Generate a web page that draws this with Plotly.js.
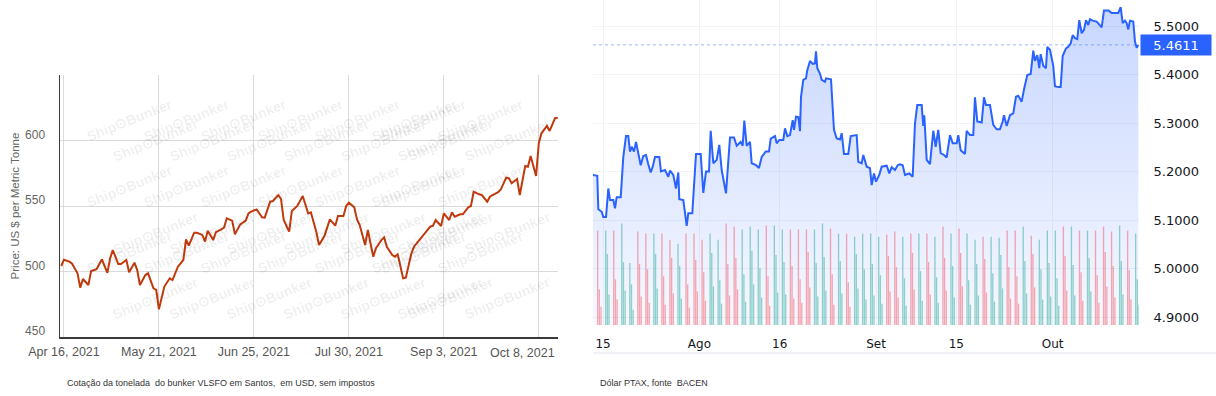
<!DOCTYPE html>
<html><head><meta charset="utf-8">
<script src="https://cdn.plot.ly/plotly-3.0.1.min.js"></script>
<style>html,body{margin:0;padding:0;background:#fff}#chart{width:1216px;height:396px}</style>
</head><body><div id="chart"></div>
<script>
// ---------- Left chart: VLSFO bunker price, Santos (USD / t) ----------
const bunkerDates = ['2021-04-15','2021-04-16','2021-04-18','2021-04-19','2021-04-21','2021-04-22','2021-04-23','2021-04-25','2021-04-26','2021-04-28','2021-04-30',
'2021-05-02','2021-05-03','2021-05-04','2021-05-06','2021-05-07','2021-05-09','2021-05-10','2021-05-12','2021-05-13','2021-05-14','2021-05-16','2021-05-17','2021-05-19','2021-05-20','2021-05-21','2021-05-23','2021-05-24','2021-05-25','2021-05-26','2021-05-28','2021-05-30','2021-05-31',
'2021-06-01','2021-06-03','2021-06-04','2021-06-06','2021-06-07','2021-06-08','2021-06-10','2021-06-11','2021-06-13','2021-06-14','2021-06-15','2021-06-17','2021-06-18','2021-06-20','2021-06-22','2021-06-23','2021-06-24','2021-06-26','2021-06-28','2021-06-29',
'2021-07-01','2021-07-02','2021-07-04','2021-07-05','2021-07-06','2021-07-08','2021-07-09','2021-07-11','2021-07-13','2021-07-15','2021-07-16','2021-07-18','2021-07-19','2021-07-21','2021-07-23','2021-07-25','2021-07-26','2021-07-28','2021-07-29','2021-07-30',
'2021-08-01','2021-08-02','2021-08-03','2021-08-05','2021-08-06','2021-08-08','2021-08-09','2021-08-11','2021-08-12','2021-08-13','2021-08-15','2021-08-16','2021-08-17','2021-08-19','2021-08-20','2021-08-22','2021-08-23','2021-08-25','2021-08-26','2021-08-28','2021-08-29','2021-08-30','2021-08-31',
'2021-09-02','2021-09-03','2021-09-05','2021-09-06','2021-09-07','2021-09-09','2021-09-10','2021-09-12','2021-09-13','2021-09-14','2021-09-16','2021-09-17','2021-09-19','2021-09-20','2021-09-21','2021-09-23','2021-09-24','2021-09-26','2021-09-27','2021-09-28','2021-09-30',
'2021-10-01','2021-10-03','2021-10-04','2021-10-05','2021-10-07','2021-10-08','2021-10-09','2021-10-11','2021-10-12','2021-10-14','2021-10-15'];
const bunkerPrice = [504.2,509,507.5,506,498.6,487.7,494.3,489.7,500.4,501.7,509.3,
499,510,516.4,505.7,505.7,508.8,499.4,506.7,501.1,489.7,497.3,498.6,487.2,485.9,471.1,488.5,492.2,494.8,493.5,503.7,508.8,524.6,
519.7,529.6,529.6,527.9,522.8,531.2,524,530,532.2,533.5,540.6,538.8,528.4,536,538.8,544.4,545.7,547.4,541.4,541.1,
553.3,553.8,558.4,555.3,539.3,530.4,546.2,550,557.6,544.4,545.2,530.4,520.2,527.1,539.8,535,542.4,542.4,550,552.5,
549,539.8,535.5,520.2,531.7,511.3,517.7,524,526.1,518.9,512.6,511.3,513.1,494.8,495.3,513.4,518.9,524,526.6,530.9,534.2,535,539.3,
534.7,544.4,539.3,545.2,541.8,543.7,543.7,549,550,560.9,558.9,558.4,553.3,557.1,558.4,560.5,562.7,571.6,571.1,567.3,570.6,
558.4,580.5,580,588.2,572.9,597.9,605.5,611.1,607.3,617,617.4];
const bunkerTicks = ['2021-04-16','2021-05-21','2021-06-25','2021-07-30','2021-09-03','2021-10-08'];
const bunkerTickText = ['Apr 16, 2021','May 21, 2021','Jun 25, 2021','Jul 30, 2021','Sep 3, 2021','Oct 8, 2021'];
const priceTicks = [450,500,550,600];

// ---------- Right chart: Dólar PTAX (BRL per USD), trading-time axis ----------
const ptaxTimes = ['2021-07-13 17:10','2021-07-14 06:50','2021-07-14 09:52','2021-07-14 20:02','2021-07-15 00:48','2021-07-15 08:53','2021-07-15 15:45','2021-07-15 20:50','2021-07-16 06:42','2021-07-16 11:47','2021-07-16 16:51',
'2021-07-19 04:48','2021-07-19 12:35','2021-07-19 20:40','2021-07-20 03:32','2021-07-20 08:36','2021-07-20 13:41','2021-07-20 20:34','2021-07-21 02:33','2021-07-21 09:25','2021-07-21 16:35','2021-07-22 00:22','2021-07-22 08:25','2021-07-22 15:18','2021-07-22 22:28','2021-07-23 04:28','2021-07-23 11:20',
'2021-07-26 00:10','2021-07-26 05:15','2021-07-26 17:13','2021-07-27 03:04','2021-07-27 08:10','2021-07-27 18:02','2021-07-28 02:05','2021-07-28 08:57','2021-07-28 11:57','2021-07-28 23:54','2021-07-29 10:04','2021-07-29 14:51','2021-07-30 02:48','2021-07-30 13:52',
'2021-08-02 03:55','2021-08-02 11:41','2021-08-02 19:45','2021-08-03 04:43','2021-08-03 09:48','2021-08-03 17:34','2021-08-04 03:44','2021-08-04 11:30','2021-08-04 18:40','2021-08-05 07:32','2021-08-05 19:29','2021-08-06 07:26','2021-08-06 15:30',
'2021-08-09 03:27','2021-08-09 09:27','2021-08-09 14:14','2021-08-09 21:24','2021-08-10 07:16','2021-08-10 12:20','2021-08-11 01:12','2021-08-11 10:09','2021-08-11 18:14','2021-08-12 06:11','2021-08-12 16:03','2021-08-12 21:07','2021-08-13 09:59','2021-08-13 15:04','2021-08-13 22:49',
'2021-08-16 10:48','2021-08-16 15:52','2021-08-16 22:45','2021-08-17 06:49','2021-08-17 14:53','2021-08-17 18:46','2021-08-18 00:45','2021-08-18 07:38','2021-08-18 12:42','2021-08-18 15:42','2021-08-18 22:34','2021-08-19 06:39','2021-08-19 10:31','2021-08-19 18:36','2021-08-20 02:40','2021-08-20 09:32','2021-08-20 12:32','2021-08-20 16:25',
'2021-08-23 00:29','2021-08-23 05:34','2021-08-23 15:26','2021-08-23 18:25','2021-08-24 09:22','2021-08-24 18:19','2021-08-25 02:24','2021-08-25 12:16','2021-08-25 17:20','2021-08-26 00:13','2021-08-26 13:03','2021-08-26 20:14','2021-08-27 14:10','2021-08-27 18:57',
'2021-08-30 05:07','2021-08-30 09:53','2021-08-30 20:04','2021-08-31 05:56','2021-08-31 11:00','2021-08-31 17:53','2021-08-31 23:51','2021-09-01 09:43','2021-09-01 16:54','2021-09-02 07:50','2021-09-02 15:36','2021-09-02 22:46','2021-09-03 08:38','2021-09-03 16:42','2021-09-03 23:35',
'2021-09-06 07:39','2021-09-06 14:31','2021-09-07 03:23','2021-09-07 13:32','2021-09-07 20:25','2021-09-08 03:17','2021-09-08 16:26','2021-09-08 21:13','2021-09-09 00:13','2021-09-09 07:23','2021-09-09 17:15','2021-09-10 03:07','2021-09-10 10:16','2021-09-10 18:02',
'2021-09-13 01:13','2021-09-13 11:05','2021-09-13 19:09','2021-09-14 05:01','2021-09-14 13:05','2021-09-15 01:03','2021-09-15 05:50','2021-09-15 13:00','2021-09-16 01:51','2021-09-16 06:56','2021-09-16 16:48','2021-09-17 02:40','2021-09-17 07:45','2021-09-17 14:37',
'2021-09-20 03:46','2021-09-20 10:38','2021-09-20 16:36','2021-09-21 04:35','2021-09-21 14:26','2021-09-22 00:36','2021-09-22 10:28','2021-09-22 18:32','2021-09-22 22:25','2021-09-23 06:29','2021-09-23 16:21','2021-09-24 02:13','2021-09-24 10:16','2021-09-24 17:09',
'2021-09-27 03:19','2021-09-27 10:12','2021-09-27 20:03','2021-09-28 06:13','2021-09-28 13:59','2021-09-28 19:04','2021-09-29 01:56','2021-09-29 07:55','2021-09-29 12:06','2021-09-29 19:52','2021-09-30 03:56','2021-09-30 07:49','2021-09-30 15:55',
'2021-10-01 01:45','2021-10-01 06:50','2021-10-01 16:42','2021-10-01 23:53','2021-10-04 05:51','2021-10-04 15:43','2021-10-04 22:35','2021-10-05 05:45','2021-10-05 11:44','2021-10-05 18:37','2021-10-06 01:29','2021-10-06 07:28','2021-10-06 14:38','2021-10-06 21:32','2021-10-07 03:30','2021-10-07 10:22','2021-10-07 15:27','2021-10-07 23:31','2021-10-08 11:28','2021-10-08 21:20',
'2021-10-11 02:25','2021-10-11 09:17','2021-10-11 22:09','2021-10-12 08:18','2021-10-13 04:02','2021-10-13 11:12','2021-10-13 17:11','2021-10-14 00:03','2021-10-14 05:08','2021-10-14 09:55','2021-10-14 15:00','2021-10-15 00:52','2021-10-15 05:57','2021-10-15 11:02','2021-10-15 15:49'];
const ptaxRate = [5.193,5.191,5.122,5.117,5.106,5.106,5.165,5.141,5.141,5.124,5.147,
5.147,5.230,5.273,5.273,5.241,5.251,5.241,5.261,5.234,5.213,5.232,5.234,5.215,5.198,5.210,5.230,
5.230,5.200,5.203,5.189,5.202,5.193,5.165,5.198,5.143,5.141,5.088,5.114,5.114,5.236,
5.236,5.156,5.200,5.200,5.284,5.217,5.224,5.255,5.203,5.155,5.270,5.270,5.253,
5.261,5.253,5.305,5.253,5.261,5.217,5.213,5.207,5.230,5.241,5.241,5.268,5.273,5.258,5.265,
5.265,5.289,5.273,5.275,5.306,5.286,5.313,5.312,5.283,5.354,5.389,5.392,5.409,5.428,5.422,5.423,5.448,5.413,
5.402,5.389,5.385,5.392,5.390,5.286,5.268,5.266,5.279,5.236,5.236,5.273,5.275,5.220,
5.217,5.234,5.210,5.207,5.172,5.196,5.179,5.193,5.210,5.212,5.196,5.209,5.203,5.213,5.215,
5.213,5.193,5.196,5.189,5.299,5.337,5.337,5.294,5.316,5.224,5.215,5.284,5.251,5.286,
5.238,5.234,5.229,5.275,5.258,5.258,5.275,5.244,5.236,5.284,5.275,5.275,5.353,5.303,
5.301,5.353,5.337,5.337,5.296,5.287,5.287,5.303,5.316,5.294,5.316,5.320,5.354,5.356,
5.344,5.369,5.399,5.401,5.449,5.428,5.440,5.413,5.442,5.418,5.413,5.457,5.451,
5.418,5.376,5.374,5.374,5.438,5.454,5.457,5.464,5.481,5.475,5.473,5.512,5.485,5.492,5.512,5.502,5.514,5.511,5.509,5.502,
5.497,5.532,5.532,5.527,5.527,5.539,5.506,5.511,5.506,5.493,5.511,5.509,5.468,5.455,5.4611];
const ptaxTickVals = ['2021-07-15','2021-08-02','2021-08-16','2021-09-01','2021-09-15','2021-10-01'];
const ptaxTickText = ['15','Ago','16','Set','15','Out'];
const rateTicks = [4.9,5.0,5.1,5.2,5.3,5.4,5.5];

// volume histogram: per trading day a main spike and two smaller follow-up spikes (relative heights), up/down colour
const volDays = ['2021-07-14','2021-07-15','2021-07-16','2021-07-19','2021-07-20','2021-07-21','2021-07-22','2021-07-23','2021-07-26','2021-07-27','2021-07-28','2021-07-29','2021-07-30',
'2021-08-02','2021-08-03','2021-08-04','2021-08-05','2021-08-06','2021-08-09','2021-08-10','2021-08-11','2021-08-12','2021-08-13','2021-08-16','2021-08-17','2021-08-18','2021-08-19','2021-08-20','2021-08-23','2021-08-24','2021-08-25','2021-08-26','2021-08-27','2021-08-30','2021-08-31',
'2021-09-01','2021-09-02','2021-09-03','2021-09-06','2021-09-07','2021-09-08','2021-09-09','2021-09-10','2021-09-13','2021-09-14','2021-09-15','2021-09-16','2021-09-17','2021-09-20','2021-09-21','2021-09-22','2021-09-23','2021-09-24','2021-09-27','2021-09-28','2021-09-29','2021-09-30',
'2021-10-01','2021-10-04','2021-10-05','2021-10-06','2021-10-07','2021-10-08','2021-10-11','2021-10-12','2021-10-13','2021-10-14','2021-10-15'];
const volMain = [93,93,93,100,61,92,90,90,90,84,80,90,90,84,90,84,100,97,94,97,94,98,98,94,94,94,94,94,100,95,90,90,87,90,90,87,89,92,87,90,
90,90,87,97,90,95,90,84,87,87,86,93,93,97,88,84,93,93,97,97,93,93,93,97,92,98,93,90];
const volSecond = [35,70,45,62,40,60,55,70,48,66,58,40,64,52,71,44,60,66,50,73,56,48,69,62,58,45,72,61,67,50,63,42,70,55,60,49,68,57,46,71,
53,62,47,66,58,71,44,60,65,51,69,57,48,63,70,55,61,46,68,59,52,66,49,72,58,63,54,45];
const volThird = [18,30,25,34,15,28,22,36,20,31,26,17,33,24,38,21,29,35,23,40,27,19,32,30,26,22,37,28,34,20,31,18,36,25,29,21,33,27,19,35,
24,30,22,34,27,38,20,29,32,23,36,26,21,31,37,25,28,19,34,29,24,33,22,38,27,30,25,20];
const volDir = ['d','u','d','u','u','d','d','u','d','d','u','d','d','d','u','u','d','d','u','u','u','d','u','u','d','d','d','u','u','d','u','d','u','u','u','u','d','d','u','d',
'u','d','u','d','u','d','u','u','d','u','u','d','d','u','d','u','u','u','d','u','d','u','d','d','d','u','d','u'];

// ---------- layout helpers (pixel -> paper) ----------
const W = 1216, H = 396;
const px = x => x / W, py = y => 1 - y / H;
const L = {x0: 60, x1: 558, y0: 75, y1: 337};     // left plot box
const R = {x0: 593, x1: 1139, y0: 0, y1: 325};    // right plot box
const HOUR = 3600 * 1000;

const lastRate = ptaxRate[ptaxRate.length - 1];
const volColors = volDir.map(d => d === 'u' ? 'rgba(8,153,129,0.42)' : 'rgba(242,54,69,0.42)');

function volTrace(heights, offsetHours) {
  return {type: 'bar', x: volDays, y: heights, xaxis: 'x2', yaxis: 'y3',
    offset: offsetHours * HOUR, width: 4 * HOUR,
    marker: {color: volColors, line: {width: 0}}, showlegend: false, hoverinfo: 'skip'};
}

const traces = [
  {
    type: 'scatter', mode: 'lines', x: bunkerDates, y: bunkerPrice, xaxis: 'x', yaxis: 'y',
    line: {color: '#c13a0e', width: 2}, hoverinfo: 'x+y', showlegend: false
  },
  volTrace(volMain, 6),
  volTrace(volSecond, 11),
  volTrace(volThird, 16),
  {
    type: 'scatter', mode: 'lines', x: ptaxTimes, y: ptaxRate, xaxis: 'x2', yaxis: 'y2',
    line: {color: '#2962ff', width: 2}, fill: 'tozeroy',
    fillgradient: {type: 'vertical', start: 4.88, stop: 5.55,
      colorscale: [[0, 'rgba(41,98,255,0.04)'], [1, 'rgba(41,98,255,0.26)']]},
    showlegend: false
  }
];

const annotations = [];
// ShipBunker watermark tiles in the left plot
for (let r = 0; r < 7; r++) {
  const cy = L.y0 + 18 + r * 46.5;
  for (let c = -1; c < 10; c++) {
    const cx = L.x0 + 22 + c * 57 + (r % 2) * 26;
    if (cx < L.x0 + 22 || cx > L.x1 - 24 || cy > L.y1 - 10) continue;
    annotations.push({xref: 'paper', yref: 'paper', x: px(cx), y: py(cy), text: 'Ship⊙Bunker',
      showarrow: false, textangle: -22, font: {family: 'Liberation Sans, Arial', size: 14, color: 'rgba(0,0,0,0.07)', weight: 'bold'}});
  }
}
annotations.push(
  // last date label of the left chart is kept inside the plot (as in the original)
  {xref: 'x', yref: 'paper', x: bunkerTicks[bunkerTicks.length - 1], y: py(353), xanchor: 'center', yanchor: 'middle',
   xshift: -16, showarrow: false, text: bunkerTickText[bunkerTickText.length - 1],
   font: {family: 'Liberation Sans, Arial', size: 12.5, color: '#555'}},
  {xref: 'paper', yref: 'paper', x: px(65), y: py(383), xanchor: 'left', yanchor: 'middle', showarrow: false,
   text: 'Cotação da tonelada  do bunker VLSFO em Santos,  em USD, sem impostos',
   font: {family: 'Liberation Sans, Arial', size: 9, color: '#333'}},
  {xref: 'paper', yref: 'paper', x: px(598), y: py(383), xanchor: 'left', yanchor: 'middle', showarrow: false,
   text: 'Dólar PTAX, fonte  BACEN',
   font: {family: 'Liberation Sans, Arial', size: 9, color: '#333'}},
  {xref: 'paper', yref: 'y2', x: px(1140), y: lastRate, xanchor: 'left', yanchor: 'middle', showarrow: false,
   text: lastRate.toFixed(4), bgcolor: '#2962ff', borderpad: 2, width: 66, height: 16,
   font: {family: 'DejaVu Sans', size: 13, color: '#ffffff'}}
);

const shapes = [
  {type: 'line', xref: 'paper', yref: 'y2', x0: px(R.x0), x1: px(R.x1), y0: lastRate, y1: lastRate,
   line: {color: '#2962ff', width: 1, dash: 'dot'}, opacity: 0.45},
  {type: 'line', xref: 'paper', yref: 'paper', x0: px(R.x0), x1: 1, y0: py(353), y1: py(353),
   line: {color: '#e0e3eb', width: 1}}
];

const layout = {
  width: W, height: H, margin: {l: 0, r: 0, t: 0, b: 0},
  paper_bgcolor: '#ffffff', plot_bgcolor: '#ffffff', showlegend: false,
  barmode: 'overlay',
  xaxis: {
    domain: [px(L.x0), px(L.x1)], anchor: 'y', type: 'date',
    range: ['2021-04-14 13:00', '2021-10-15 02:00'],
    tickvals: bunkerTicks, ticktext: bunkerTickText.slice(0, -1).concat(['']),
    showgrid: true, gridcolor: '#dadada', gridwidth: 1,
    showline: true, linecolor: '#3a3a3a', linewidth: 1.5,
    ticks: 'outside', ticklen: 2, tickcolor: 'rgba(0,0,0,0)',
    tickfont: {family: 'Liberation Sans, Arial', size: 12.5, color: '#555'}, zeroline: false
  },
  yaxis: {
    domain: [py(L.y1), py(L.y0)], anchor: 'x', range: [450, 650],
    tickvals: priceTicks, showgrid: true, gridcolor: '#dadada', gridwidth: 1,
    showline: true, linecolor: '#3a3a3a', linewidth: 1.5,
    ticks: 'outside', ticklen: 11, tickcolor: 'rgba(0,0,0,0)', ticklabelshift: -6,
    tickfont: {family: 'Liberation Sans, Arial', size: 12, color: '#666'}, zeroline: false,
    title: {text: 'Price: US $ per Metric Tonne', standoff: 3,
      font: {family: 'Liberation Sans, Arial', size: 11.5, color: '#666'}}
  },
  xaxis2: {
    domain: [px(R.x0), px(R.x1)], anchor: 'y2', type: 'date',
    rangebreaks: [{bounds: ['sat', 'mon']}],
    range: ['2021-07-13 18:00', '2021-10-15 18:00'],
    tickvals: ptaxTickVals, ticktext: ptaxTickText,
    showgrid: true, gridcolor: '#f0f3fa', gridwidth: 1, showline: false, zeroline: false,
    ticks: 'outside', ticklen: 8, tickcolor: 'rgba(0,0,0,0)',
    tickfont: {family: 'DejaVu Sans', size: 12, color: '#131722'}
  },
  yaxis2: {
    domain: [py(R.y1), py(R.y0)], anchor: 'x2', side: 'right', range: [4.8835, 5.5536],
    tickvals: rateTicks, tickformat: '.4f',
    showgrid: true, gridcolor: '#f0f3fa', gridwidth: 1, showline: false, zeroline: false,
    ticks: 'outside', ticklen: 11, tickcolor: 'rgba(0,0,0,0)',
    tickfont: {family: 'DejaVu Sans', size: 13, color: '#131722'}
  },
  yaxis3: {
    domain: [py(R.y1), py(R.y0)], anchor: 'x2', overlaying: 'y2', range: [0, 320], visible: false
  },
  annotations: annotations, shapes: shapes
};

Plotly.newPlot('chart', traces, layout, {displayModeBar: false, staticPlot: true});
</script>
</body></html>
